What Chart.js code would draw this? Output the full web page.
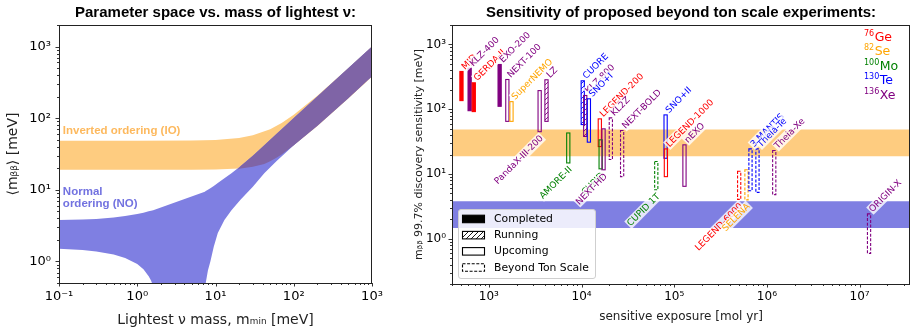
<!DOCTYPE html>
<html><head><meta charset="utf-8">
<script src="https://cdn.jsdelivr.net/npm/chart.js@4.4.0/dist/chart.umd.min.js"></script>
<style>
html,body{margin:0;padding:0;background:#fff;}
#wrap{position:relative;width:916px;height:333px;overflow:hidden;}
.pane{position:absolute;top:0;height:333px;}
</style></head><body>
<div id="wrap">
<div class="pane" style="left:0;width:390px"><canvas id="c1" width="390" height="333"></canvas></div>
<div class="pane" style="left:385px;width:531px"><canvas id="c2" width="531" height="333"></canvas></div>
</div>
<script>
// ================= DATA =================
// Left panel: band boundaries (lightest mass in meV -> <m_bb> in meV)
const ioMass  = [0.1, 1, 5, 10, 20, 30, 50, 70, 100, 200, 500, 1000];
const ioUpper = [48.5, 48.5, 48.8, 49.5, 53, 58, 70, 86, 112, 206, 503, 1000];
const ioLower = [19, 19, 19, 19.2, 19.8, 21, 25, 31, 42, 78, 190, 380];

const noMass  = [0.1, 0.2, 0.3, 0.5, 0.7, 1, 1.2, 1.4, 1.5, 1.6, 1.7, 7.3, 7.5, 8, 8.6, 9.5, 10.7, 13, 16, 21, 30, 42, 60, 100, 200, 500, 1000];
const noUpper = [3.8, 3.85, 3.9, 4.1, 4.3, 4.6, 4.8, 5.0, 5.1, 5.2, 5.3, 9.4, 9.6, 10, 10.5, 11.3, 12.4, 14.5, 17, 21.5, 30, 42, 60, 101, 201, 501, 1000];
const noLower = [1.5, 1.45, 1.38, 1.25, 1.12, 0.92, 0.78, 0.62, 0.54, 0.45, 0.1, 0.1, 0.5, 0.75, 1.0, 1.6, 2.5, 3.8, 5.2, 7.3, 11, 17, 25, 42, 80, 195, 385];

const ovMass  = [18.9, 21, 30, 42, 50, 60, 70, 100, 200, 500, 1000];
const ovUpper = [19, 21.5, 30, 42, 50, 60, 70, 101, 201, 501, 1000];
const ovLower = [19, 19.9, 21, 23, 25, 28, 31, 42, 78, 190, 385];

// Right panel: experiments
const expNames   = ['MJD','KLZ-400','GERDA-II','EXO-200','NEXT-100','SuperNEMO','PandaX-III-200','LZ','AMORE-II','CUORE','KLZ-800','SNO+I','LEGEND-200','CUPID','NEXT-HD','KL2Z','NEXT-BOLD','CUPID 1T','SNO+II','LEGEND-1000','nEXO','LEGEND-6000','SELENA','3 MANTIS','Theia-Te','Theia-Xe','ORIGIN-X'];
const expIsotope = ['Ge','Xe','Ge','Xe','Xe','Se','Xe','Xe','Mo','Te','Xe','Te','Ge','Mo','Xe','Xe','Xe','Mo','Te','Ge','Xe','Ge','Se','Te','Te','Xe','Xe'];
const expStatus  = ['completed','completed','completed','completed','upcoming','upcoming','upcoming','running','upcoming','running','running','upcoming','upcoming','upcoming','upcoming','beyond','beyond','beyond','upcoming','upcoming','upcoming','beyond','beyond','beyond','beyond','beyond','beyond'];
const expExposure = [506, 620, 687, 1306, 1582, 1754, 3530, 4185, 7190, 10300, 10960, 12000, 15740, 16070, 17270, 20700, 27400, 64000, 80700, 81300, 129000, 502000, 602000, 665000, 791000, 1200000, 12650000];
const expSensLow  = [136, 95, 92, 111, 65, 65, 45, 65, 14.8, 58, 38, 31, 26.5, 12, 11.6, 16.7, 9.1, 5.7, 17.5, 9.1, 6.45, 4.06, 3.98, 5.5, 5.2, 4.8, 0.594];
const expSensHigh = [383, 430, 256, 491, 288, 131, 194, 285, 43, 275, 163, 145, 71, 33.7, 49.8, 73.6, 46.9, 15.6, 81.8, 24.4, 28.2, 11, 11.6, 24.4, 24.4, 23, 2.42];

// Horizontal reference bands on right panel
const bandRangeX = [400, 3.5e7];
const ioBandRight = [18.8, 48.5];
const noBandRight = [1.47, 3.78];

const isotopes = [['76','Ge'],['82','Se'],['100','Mo'],['130','Te'],['136','Xe']];
const statusNames = ['Completed','Running','Upcoming','Beyond Ton Scale'];

// ================= STYLE =================
const IO_FILL = '#FECC80';
const NO_FILL = '#7F7FE2';
const OV_FILL = '#7F64A6';
const ISO_COLOR = {Ge:'#FF0000', Se:'#FFA500', Mo:'#008000', Te:'#0000FF', Xe:'#800080'};
const labelSide = {'PandaX-III-200':'bottom','AMORE-II':'bottom','CUPID':'bottom','NEXT-HD':'bottom','CUPID 1T':'bottom','LEGEND-6000':'bottom','SELENA':'bottom'};

const SUP = {'-':'⁻','0':'⁰','1':'¹','2':'²','3':'³','4':'⁴','5':'⁵','6':'⁶','7':'⁷','8':'⁸','9':'⁹'};
function powLabel(v){
  const e = Math.round(Math.log10(v));
  if (Math.abs(v/Math.pow(10,e) - 1) > 1e-6) return '';
  return '10' + String(e).split('').map(c => SUP[c]).join('');
}
const pts = (xs, ys) => xs.map((x,i) => ({x, y: ys[i]}));

function logAxis(min, max, fontSize, pad, fit, title){
  return {
    type:'logarithmic', min, max,
    grid:{display:false, drawTicks:false}, border:{display:false},
    ticks:{autoSkip:false, maxRotation:0, minRotation:0, padding:pad, color:'#000',
      font:{family:'DejaVu Sans', size:fontSize}, callback:(v)=>powLabel(v)},
    title, afterFit: fit
  };
}
function bandPair(xs, up, lo, color){
  return [
    {data: pts(xs, up), borderColor:'transparent', borderWidth:1, pointRadius:0, fill:false},
    {data: pts(xs, lo), borderColor:'transparent', borderWidth:1, pointRadius:0, fill:'-1', backgroundColor:color}
  ];
}
function drawTicksFrame(chart, lenMajor, lenMinor){
  const ctx = chart.ctx, a = chart.chartArea;
  ctx.save();
  ctx.strokeStyle = '#000'; ctx.lineWidth = 0.8;
  ['x','y'].forEach(id => {
    const s = chart.scales[id];
    const e0 = Math.floor(Math.log10(s.min)), e1 = Math.ceil(Math.log10(s.max));
    for (let e = e0; e <= e1; e++) for (let k = 1; k <= 9; k++) {
      const v = k*Math.pow(10,e);
      if (v < s.min*0.9999 || v > s.max*1.0001) continue;
      const p = Math.round(s.getPixelForValue(v)) + 0.5;
      const L = k === 1 ? lenMajor : lenMinor;
      ctx.beginPath();
      if (id === 'x'){ ctx.moveTo(p, a.bottom); ctx.lineTo(p, a.bottom + L); }
      else { ctx.moveTo(a.left, p); ctx.lineTo(a.left - L, p); }
      ctx.stroke();
    }
  });
  ctx.strokeStyle = '#222'; ctx.lineWidth = 1;
  ctx.strokeRect(Math.round(a.left)+0.5, Math.round(a.top)+0.5, Math.round(a.right-a.left)-1, Math.round(a.bottom-a.top));
  ctx.restore();
}

// ================= LEFT CHART =================
const leftPlugin = {
  id:'leftDeco',
  afterDatasetsDraw(chart){
    const ctx = chart.ctx, xs = chart.scales.x, ys = chart.scales.y;
    ctx.save();
    ctx.font = 'bold 11.5px "Liberation Sans"';
    ctx.textBaseline = 'middle'; ctx.textAlign = 'left';
    ctx.fillStyle = '#FDB95E';
    ctx.fillText('Inverted ordering (IO)', xs.getPixelForValue(0.112), ys.getPixelForValue(67));
    ctx.fillStyle = '#7272E0';
    const y0 = ys.getPixelForValue(9.5);
    ctx.fillText('Normal', xs.getPixelForValue(0.112), y0);
    ctx.fillText('ordering (NO)', xs.getPixelForValue(0.112), y0 + 12.7);
    ctx.restore();
  },
  afterDraw(chart){ drawTicksFrame(chart, 3.5, 2); }
};

new Chart(document.getElementById('c1'), {
  type:'line',
  data:{datasets:[
    ...bandPair(ovMass, ovUpper, ovLower, OV_FILL),
    ...bandPair(noMass, noUpper, noLower, NO_FILL),
    ...bandPair(ioMass, ioUpper, ioLower, IO_FILL)
  ]},
  options:{
    responsive:false, animation:false, devicePixelRatio:1,
    layout:{padding:{left:0, right:18, top:0, bottom:0}},
    plugins:{
      legend:{display:false}, tooltip:{enabled:false},
      title:{display:true, text:'Parameter space vs. mass of lightest ν:', color:'#000', fullSize:false,
        font:{family:'Liberation Sans', size:15, weight:'bold', lineHeight:1.2}, padding:{top:4, bottom:3}}
    },
    scales:{
      x: logAxis(0.1, 1000, 13, 6, s => { s.height = 50; },
        {display:true, text:'Lightest ν mass, mₘᵢₙ [meV]', color:'#222', font:{family:'DejaVu Sans', size:14, lineHeight:1.2}, padding:{top:0, bottom:4.5}}),
      y: logAxis(0.5, 2000, 13, 8, s => { s.width = 59; },
        {display:true, text:'⟨mᵦᵦ⟩ [meV]', color:'#222', font:{family:'DejaVu Sans', size:14, lineHeight:1.2}, padding:{top:5, bottom:0}})
    }
  },
  plugins:[leftPlugin]
});

// ================= RIGHT CHART =================
const patternCache = {};
function hatchPattern(ctx, color){
  if (patternCache[color]) return patternCache[color];
  const c = document.createElement('canvas'); c.width = c.height = 5;
  const g = c.getContext('2d');
  g.strokeStyle = color; g.lineWidth = 0.9;
  g.beginPath();
  g.moveTo(0,5); g.lineTo(5,0);
  g.moveTo(-1,1); g.lineTo(1,-1);
  g.moveTo(4,6); g.lineTo(6,4);
  g.stroke();
  return (patternCache[color] = ctx.createPattern(c, 'repeat'));
}
function drawStatusRect(ctx, x, y, w, h, color, status){
  ctx.save();
  ctx.strokeStyle = color; ctx.lineWidth = 1.1;
  if (status === 'completed'){ ctx.fillStyle = color; ctx.fillRect(x, y, w, h); }
  if (status === 'running'){ ctx.fillStyle = hatchPattern(ctx, color); ctx.fillRect(x, y, w, h); }
  if (status === 'beyond') ctx.setLineDash([3, 1.6]);
  ctx.strokeRect(x, y, w, h);
  ctx.restore();
}
function drawRotLabel(ctx, text, x, y, side, color){
  ctx.save();
  ctx.translate(x, y); ctx.rotate(-Math.PI/4);
  ctx.font = '9px "DejaVu Sans"';
  const w = ctx.measureText(text).width;
  const x0 = side === 'top' ? 0 : -w;
  ctx.fillStyle = 'rgba(255,255,255,0.8)';
  ctx.fillRect(x0 - 1, -8, w + 2, 10.5);
  ctx.fillStyle = color; ctx.textBaseline = 'alphabetic'; ctx.textAlign = 'left';
  ctx.fillText(text, x0, 0);
  ctx.restore();
}

const rightPlugin = {
  id:'rightDeco',
  afterDatasetsDraw(chart){
    const ctx = chart.ctx, xs = chart.scales.x, ys = chart.scales.y, a = chart.chartArea;
    ctx.save();
    ctx.beginPath(); ctx.rect(a.left, a.top, a.right - a.left, a.bottom - a.top); ctx.clip();
    expNames.forEach((n, i) => {
      const cx = xs.getPixelForValue(expExposure[i]);
      const yt = ys.getPixelForValue(expSensHigh[i]);
      const yb = ys.getPixelForValue(expSensLow[i]);
      drawStatusRect(ctx, cx - 1.6, yt, 3.2, yb - yt, ISO_COLOR[expIsotope[i]], expStatus[i]);
    });
    expNames.forEach((n, i) => {
      const cx = xs.getPixelForValue(expExposure[i]);
      const yt = ys.getPixelForValue(expSensHigh[i]);
      const yb = ys.getPixelForValue(expSensLow[i]);
      const side = labelSide[n] || 'top';
      if (side === 'top') drawRotLabel(ctx, n, cx + 3.5, yt - 1.5, 'top', ISO_COLOR[expIsotope[i]]);
      else drawRotLabel(ctx, n, cx + 4, yb + 7, 'bottom', ISO_COLOR[expIsotope[i]]);
    });
    ctx.restore();

    // isotope legend (top right)
    ctx.save();
    ctx.textBaseline = 'alphabetic'; ctx.textAlign = 'left';
    isotopes.forEach((iso, k) => {
      const col = ISO_COLOR[iso[1]];
      const x = a.right - 46, yb = a.top + 15.5 + k*14.5;
      ctx.fillStyle = col;
      ctx.font = '8px "DejaVu Sans"';
      ctx.fillText(iso[0], x, yb - 5);
      const w = ctx.measureText(iso[0]).width;
      ctx.font = '12.5px "DejaVu Sans"';
      ctx.fillText(iso[1], x + w + 0.5, yb);
    });
    ctx.restore();

    // status legend (bottom left)
    ctx.save();
    const lx = a.left + 6, ly = a.bottom - 75, lw = 137, lh = 69;
    ctx.fillStyle = 'rgba(255,255,255,0.85)';
    ctx.strokeStyle = '#cfcfcf'; ctx.lineWidth = 1;
    ctx.beginPath();
    if (ctx.roundRect) ctx.roundRect(lx + 0.5, ly + 0.5, lw, lh, 2.5); else ctx.rect(lx + 0.5, ly + 0.5, lw, lh);
    ctx.fill(); ctx.stroke();
    const stat = ['completed','running','upcoming','beyond'];
    ctx.font = '10.8px "DejaVu Sans"'; ctx.textBaseline = 'middle';
    statusNames.forEach((s, k) => {
      const yc = ly + 9.7 + k*16.2;
      drawStatusRect(ctx, lx + 4.5, yc - 3.5, 22, 7.5, '#000', stat[k]);
      ctx.fillStyle = '#000';
      ctx.fillText(s, lx + 36, yc + 0.5);
    });
    ctx.restore();
  },
  afterDraw(chart){ drawTicksFrame(chart, 3.5, 2); }
};

new Chart(document.getElementById('c2'), {
  type:'line',
  data:{datasets:[
    ...bandPair(bandRangeX, [noBandRight[1], noBandRight[1]], [noBandRight[0], noBandRight[0]], NO_FILL),
    ...bandPair(bandRangeX, [ioBandRight[1], ioBandRight[1]], [ioBandRight[0], ioBandRight[0]], IO_FILL)
  ]},
  options:{
    responsive:false, animation:false, devicePixelRatio:1,
    layout:{padding:{left:0, right:2, top:0, bottom:0}},
    plugins:{
      legend:{display:false}, tooltip:{enabled:false},
      title:{display:true, text:'Sensitivity of proposed beyond ton scale experiments:', color:'#000', fullSize:false,
        font:{family:'Liberation Sans', size:15, weight:'bold', lineHeight:1.2}, padding:{top:4, bottom:3}}
    },
    scales:{
      x: logAxis(400, 3.5e7, 12, 6, s => { s.height = 49; },
        {display:true, text:'sensitive exposure [mol yr]', color:'#222', font:{family:'DejaVu Sans', size:12, lineHeight:1.2}, padding:{top:0, bottom:9}}),
      y: logAxis(0.2, 2000, 12, 6, s => { s.width = 67; },
        {display:true, text:'mᵦᵦ 99.7% discovery sensitivity [meV]', color:'#222', font:{family:'DejaVu Sans', size:11, lineHeight:1.2}, padding:{top:28, bottom:0}})
    }
  },
  plugins:[rightPlugin]
});
</script>
</body></html>
